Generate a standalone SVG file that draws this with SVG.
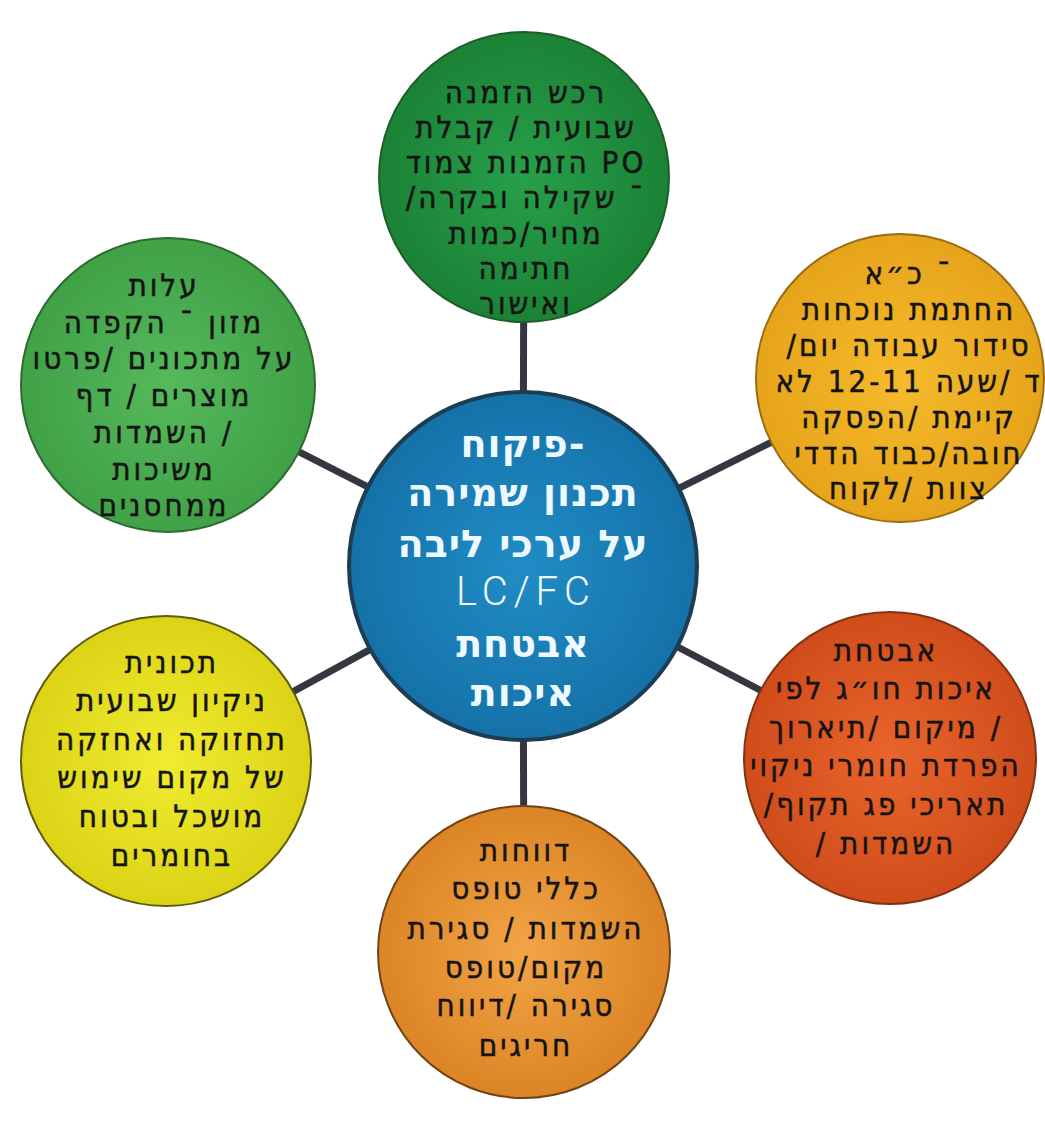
<svg xmlns="http://www.w3.org/2000/svg" width="1045" height="1128" viewBox="0 0 1045 1128">
<defs>
<radialGradient id="gTop" cx="50%" cy="50%" r="50%"><stop offset="0" stop-color="#27a04a"/><stop offset="1" stop-color="#1b8236"/></radialGradient>
<radialGradient id="gTL" cx="50%" cy="50%" r="50%"><stop offset="0" stop-color="#56b95b"/><stop offset="1" stop-color="#40a147"/></radialGradient>
<radialGradient id="gTR" cx="50%" cy="50%" r="50%"><stop offset="0" stop-color="#f6ba2c"/><stop offset="1" stop-color="#e6a41a"/></radialGradient>
<radialGradient id="gBR" cx="50%" cy="50%" r="50%"><stop offset="0" stop-color="#ea652c"/><stop offset="1" stop-color="#d04c1a"/></radialGradient>
<radialGradient id="gB" cx="50%" cy="50%" r="50%"><stop offset="0" stop-color="#f2a545"/><stop offset="1" stop-color="#dc8426"/></radialGradient>
<radialGradient id="gBL" cx="50%" cy="50%" r="50%"><stop offset="0" stop-color="#f0ec30"/><stop offset="1" stop-color="#dcd316"/></radialGradient>
<radialGradient id="gC" cx="50%" cy="50%" r="50%"><stop offset="0" stop-color="#208cc6"/><stop offset="1" stop-color="#1572a8"/></radialGradient>
</defs>
<style>
.node circle{stroke-width:2}
.t{font-family:"DejaVu Sans Condensed","DejaVu Sans",sans-serif;font-stretch:condensed;font-size:31px;letter-spacing:3px;fill:#141414;stroke:#141414;stroke-width:0.5px;text-anchor:middle;direction:ltr}
.c{font-family:"DejaVu Sans",sans-serif;font-weight:bold;font-size:38px;letter-spacing:1px;fill:#eef8ff;text-anchor:middle;direction:ltr}
.lat{font-family:Roboto,"Liberation Sans",sans-serif;font-weight:300;font-size:40px;letter-spacing:6px;fill:#eef8ff;text-anchor:middle}
.conn line{stroke:#34373f;stroke-width:7}
</style>
<rect width="1045" height="1128" fill="#ffffff"/>
<g id="connectors" class="conn">
<line x1="523" y1="566" x2="524" y2="177"/>
<line x1="523" y1="566" x2="168" y2="385"/>
<line x1="523" y1="566" x2="900" y2="378"/>
<line x1="523" y1="566" x2="166" y2="761"/>
<line x1="523" y1="566" x2="890" y2="758"/>
<line x1="523" y1="566" x2="524" y2="952"/>
</g>
<g id="node-top" class="node">
<circle cx="524" cy="177" r="145" fill="url(#gTop)" stroke="#1f5e2c"/>
<text class="t" x="526" y="103">רכש הזמנה</text>
<text class="t" x="526" y="138">שבועית / קבלת</text>
<text class="t" x="526" y="173">הזמנות צמוד PO</text>
<text class="t" x="526" y="208">/שקילה ובקרה ¯</text>
<text class="t" x="526" y="244">מחיר/כמות</text>
<text class="t" x="526" y="279">חתימה</text>
<text class="t" x="526" y="314">ואישור</text>
</g>
<g id="node-top-right" class="node">
<circle cx="900" cy="378" r="144" fill="url(#gTR)" stroke="#9a6c12"/>
<text class="t" x="909" y="284">כ״א ¯</text>
<text class="t" x="909" y="320">החתמת נוכחות</text>
<text class="t" x="909" y="356">/סידור עבודה יום</text>
<text class="t" x="909" y="392">ד /שעה 12-11 לא</text>
<text class="t" x="909" y="428">קיימת /הפסקה</text>
<text class="t" x="909" y="464">חובה/כבוד הדדי</text>
<text class="t" x="909" y="499">צוות /לקוח</text>
</g>
<g id="node-top-left" class="node">
<circle cx="168" cy="385" r="147" fill="url(#gTL)" stroke="#2c6b30"/>
<text class="t" x="164" y="296">עלות</text>
<text class="t" x="164" y="333">מזון ¯ הקפדה</text>
<text class="t" x="164" y="369">על מתכונים /פרטו</text>
<text class="t" x="164" y="406">מוצרים / דף</text>
<text class="t" x="164" y="443">השמדות /</text>
<text class="t" x="164" y="480">משיכות</text>
<text class="t" x="164" y="516">ממחסנים</text>
</g>
<g id="node-center" class="node">
<circle cx="523" cy="566" r="174" fill="url(#gC)" stroke="#1d3d52" style="stroke-width:4"/>
<text class="c" x="523" y="457">פיקוח-</text>
<text class="c" x="523" y="506">תכנון שמירה</text>
<text class="c" x="523" y="557">על ערכי ליבה</text>
<text class="lat" x="526" y="605">LC/FC</text>
<text class="c" x="523" y="657">אבטחת</text>
<text class="c" x="523" y="706">איכות</text>
</g>
<g id="node-bottom-left" class="node">
<circle cx="166" cy="761" r="145" fill="url(#gBL)" stroke="#5e5c10"/>
<text class="t" x="172" y="673">תכונית</text>
<text class="t" x="172" y="711">ניקיון שבועית</text>
<text class="t" x="172" y="750">תחזוקה ואחזקה</text>
<text class="t" x="172" y="788">של מקום שימוש</text>
<text class="t" x="172" y="827">מושכל ובטוח</text>
<text class="t" x="172" y="866">בחומרים</text>
</g>
<g id="node-bottom-right" class="node">
<circle cx="890" cy="758" r="146" fill="url(#gBR)" stroke="#7e3514"/>
<text class="t" x="886" y="661">אבטחת</text>
<text class="t" x="886" y="699">איכות חו״ג לפי</text>
<text class="t" x="886" y="738">מיקום /תיארוך /</text>
<text class="t" x="886" y="776">הפרדת חומרי ניקוי</text>
<text class="t" x="886" y="815">/תאריכי פג תקוף</text>
<text class="t" x="886" y="854">/ השמדות</text>
</g>
<g id="node-bottom" class="node">
<circle cx="524" cy="952" r="146" fill="url(#gB)" stroke="#6e4418"/>
<text class="t" x="526" y="861">דווחות</text>
<text class="t" x="526" y="899">כללי טופס</text>
<text class="t" x="526" y="939">השמדות / סגירת</text>
<text class="t" x="526" y="978">מקום/טופס</text>
<text class="t" x="526" y="1016">סגירה /דיווח</text>
<text class="t" x="526" y="1056">חריגים</text>
</g>
</svg>
